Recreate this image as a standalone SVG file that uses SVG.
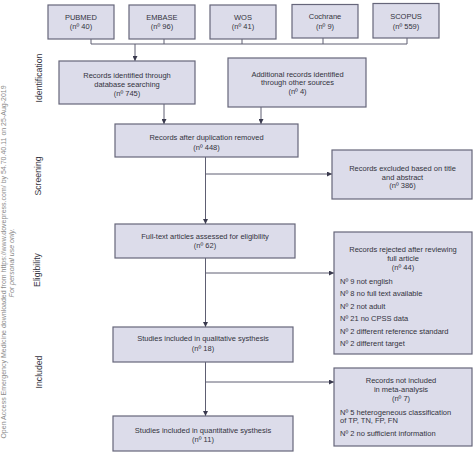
<svg xmlns="http://www.w3.org/2000/svg" width="474" height="455" viewBox="0 0 474 455">
<defs>
<marker id="ah" viewBox="0 0 6 6" refX="6" refY="3" markerWidth="5" markerHeight="5" markerUnits="userSpaceOnUse" orient="auto">
<path d="M0,0 L6,3 L0,6 z" fill="#3a3a4e"/>
</marker>
<style>
.box{fill:#dcdcea;stroke:#66667a;stroke-width:1.2}
.t{font-family:"Liberation Sans",Arial,sans-serif;font-size:7.5px;fill:#333340;text-anchor:middle}
.l{font-family:"Liberation Sans",Arial,sans-serif;font-size:7.5px;fill:#333340}
.ph{font-family:"Liberation Sans",Arial,sans-serif;font-size:8.7px;fill:#333340;text-anchor:middle}
.wm{font-family:"Liberation Sans",Arial,sans-serif;font-size:7px;fill:#8a8a8a;text-anchor:middle}
.c{fill:none;stroke:#5e5e72;stroke-width:1}
.a{fill:none;stroke:#5e5e72;stroke-width:1;marker-end:url(#ah)}
</style>
</defs>
<rect width="474" height="455" fill="#ffffff"/>
<g id="watermark">
<text class="wm" transform="translate(6,262) rotate(-90)">Open Access Emergency Medicine downloaded from https://www.dovepress.com/ by 54.70.40.11 on 25-Aug-2019</text>
<text class="wm" font-style="italic" transform="translate(14,263) rotate(-90)">For personal use only.</text>
</g>
<g id="phases">
<text class="ph" transform="translate(42,78) rotate(-90)">Identification</text>
<text class="ph" transform="translate(41,176) rotate(-90)">Screening</text>
<text class="ph" transform="translate(39.5,270) rotate(-90)">Eligibility</text>
<text class="ph" transform="translate(42,372) rotate(-90)">Included</text>
</g>
<g id="connectors">
<path class="c" d="M91,39 V44 M164,39 V44 M242,39 V44 M323,38 V44 M407,38 V44 M91,44 H407"/>
<path class="a" d="M135,44 V61"/>
<path class="a" d="M164,104 V124"/>
<path class="a" d="M261,107 V124"/>
<path class="a" d="M205.5,157 V224"/>
<path class="a" d="M205.5,174 H332"/>
<path class="a" d="M205.5,258 V327"/>
<path class="a" d="M205.5,273 H334"/>
<path class="a" d="M205.5,362 V416"/>
<path class="a" d="M205.5,382 H334"/>
</g>
<g id="pubmed">
<rect class="box" x="48" y="5" width="66" height="34"/>
<text class="t" x="81" y="19.5">PUBMED</text>
<text class="t" x="81" y="29">(nº 40)</text>
</g>
<g id="embase">
<rect class="box" x="129" y="5" width="66" height="34"/>
<text class="t" x="162" y="19.5">EMBASE</text>
<text class="t" x="162" y="29">(nº 96)</text>
</g>
<g id="wos">
<rect class="box" x="210" y="5" width="66" height="34"/>
<text class="t" x="243" y="19.5">WOS</text>
<text class="t" x="243" y="29">(nº 41)</text>
</g>
<g id="cochrane">
<rect class="box" x="292" y="4.5" width="66" height="33.5"/>
<text class="t" x="325" y="19">Cochrane</text>
<text class="t" x="325" y="28.5">(nº 9)</text>
</g>
<g id="scopus">
<rect class="box" x="373" y="3.5" width="66" height="34.5"/>
<text class="t" x="406" y="19">SCOPUS</text>
<text class="t" x="406" y="28.5">(nº 559)</text>
</g>
<g id="database">
<rect class="box" x="59" y="61" width="136" height="43"/>
<text class="t" x="127" y="78">Records identified through</text>
<text class="t" x="127" y="87">database searching</text>
<text class="t" x="127" y="96">(nº 745)</text>
</g>
<g id="additional">
<rect class="box" x="228" y="58" width="138" height="49"/>
<text class="t" x="297.5" y="76.7">Additional records identified</text>
<text class="t" x="297.5" y="85">through other sources</text>
<text class="t" x="297.5" y="93.5">(nº 4)</text>
</g>
<g id="duplicates">
<rect class="box" x="115" y="124" width="183" height="33"/>
<text class="t" x="206.5" y="140.4">Records after duplication removed</text>
<text class="t" x="206.5" y="150">(nº 448)</text>
</g>
<g id="excluded">
<rect class="box" x="332" y="150" width="140" height="49"/>
<text class="t" x="402.5" y="171">Records excluded based on title</text>
<text class="t" x="402.5" y="180">and abstract</text>
<text class="t" x="402.5" y="187.7">(nº 386)</text>
</g>
<g id="fulltext">
<rect class="box" x="115" y="224" width="180" height="34"/>
<text class="t" x="205" y="238.7">Full-text articles assessed for eligibility</text>
<text class="t" x="205" y="247.7">(nº 62)</text>
</g>
<g id="rejected">
<rect class="box" x="334" y="232" width="138" height="122"/>
<text class="t" x="403" y="251.7">Records rejected after reviewing</text>
<text class="t" x="403" y="260.5">full article</text>
<text class="t" x="403" y="269.7">(nº 44)</text>
<text class="l" x="340" y="283.7">Nº 9 not english</text>
<text class="l" x="340" y="296.2">Nº 8 no full text available</text>
<text class="l" x="340" y="308.7">Nº 2 not adult</text>
<text class="l" x="340" y="321.2">Nº 21 no CPSS data</text>
<text class="l" x="340" y="333.7">Nº 2 different reference standard</text>
<text class="l" x="340" y="346">Nº 2 different target</text>
</g>
<g id="qualitative">
<rect class="box" x="113" y="327" width="180" height="35"/>
<text class="t" x="203" y="341">Studies included in qualitative systhesis</text>
<text class="t" x="203" y="351">(nº 18)</text>
</g>
<g id="notincluded">
<rect class="box" x="334" y="368" width="138" height="78"/>
<text class="t" x="401" y="383">Records not included</text>
<text class="t" x="401" y="392">in meta-analysis</text>
<text class="t" x="401" y="401">(nº 7)</text>
<text class="l" x="340" y="414.7">Nº 5 heterogeneous classification</text>
<text class="l" x="340" y="423">of TP, TN, FP, FN</text>
<text class="l" x="340" y="435.7">Nº 2 no sufficient information</text>
</g>
<g id="quantitative">
<rect class="box" x="113" y="416" width="180" height="35"/>
<text class="t" x="203" y="432.5">Studies included in quantitative systhesis</text>
<text class="t" x="203" y="442">(nº 11)</text>
</g>
</svg>
